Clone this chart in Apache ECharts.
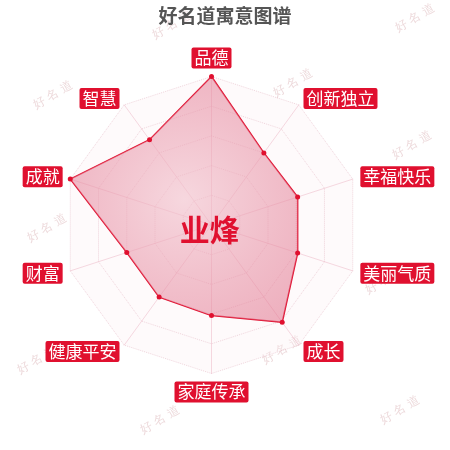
<!DOCTYPE html>
<html lang="zh">

<head>
    <meta charset="UTF-8">
    <script src="https://cdn.jsdelivr.net/npm/echarts@6/dist/echarts.min.js"></script>
    <title>好名道寓意图谱</title>
</head>
<style>
    html, body {
        margin: 0;
        padding: 0;
        background: #fff;
    }
</style>

<body>
    <div id="main" style="width: 450px;height:450px;"></div>
</body>
<script>
    // 指标（逆时针排列，从顶部开始）
    let names = ['品德', '智慧', '成就', '财富', '健康平安', '家庭传承', '成长', '美丽气质', '幸福快乐', '创新独立'];
    let values = [100, 71, 100, 60, 60, 61, 81, 61, 61, 60];
    let maxValue = 100;
    let personName = '业烽';
    // 水印位置
    let marks = [[172, 25], [415, 18], [53, 95], [293, 83], [412, 145], [47, 228], [385, 280], [37, 360], [282, 350], [160, 420], [400, 410]];

    let myChart = echarts.init(document.getElementById('main'));
    let red = '#e0102f';

    let option = {
        backgroundColor: '#fff',
        title: [{
            text: '好名道寓意图谱',
            left: 'center',
            top: 1,
            textStyle: {
                color: '#555',
                fontSize: 19,
                fontWeight: 'bold',
                fontFamily: 'Noto Sans CJK SC'
            }
        }, {
            text: personName,
            left: '45.5%',
            top: '50%',
            textAlign: 'center',
            textVerticalAlign: 'middle',
            textStyle: {
                color: red,
                fontSize: 30,
                fontWeight: 'bold',
                fontFamily: 'Noto Sans CJK SC'
            }
        }],
        graphic: marks.map(p => ({
            type: 'text',
            x: p[0],
            y: p[1],
            rotation: Math.PI / 6,
            z: 0,
            style: {
                text: '好 名 道',
                fontSize: 12,
                fill: 'rgba(210,160,165,0.4)',
                textAlign: 'center',
                textVerticalAlign: 'middle'
            }
        })),
        radar: {
            center: ['47%', '50%'],
            radius: '66%',
            startAngle: 90,
            splitNumber: 5,
            shape: 'polygon',
            nameGap: 8,
            indicator: names.map(n => ({ name: n, max: maxValue })),
            axisName: {
                color: '#fff',
                backgroundColor: red,
                borderRadius: 2,
                padding: [2, 3],
                fontSize: 17,
                fontFamily: 'Noto Sans CJK SC'
            },
            splitLine: {
                lineStyle: {
                    color: 'rgba(225,175,190,0.5)',
                    type: 'dotted'
                }
            },
            axisLine: {
                lineStyle: {
                    color: 'rgba(235,180,195,0.5)'
                }
            },
            splitArea: {
                areaStyle: {
                    color: ['rgba(252,235,240,0.25)']
                }
            }
        },
        series: [{
            type: 'radar',
            symbol: 'circle',
            symbolSize: 5,
            itemStyle: { color: red },
            lineStyle: { color: red, width: 1.5 },
            areaStyle: {
                color: new echarts.graphic.RadialGradient(0.5, 0.5, 0.7, [
                    { offset: 0, color: 'rgba(242,195,206,0.9)' },
                    { offset: 1, color: 'rgba(224,112,138,0.78)' }
                ])
            },
            data: [{ value: values, name: personName }]
        }]
    };

    myChart.setOption(option);
</script>

</html>
